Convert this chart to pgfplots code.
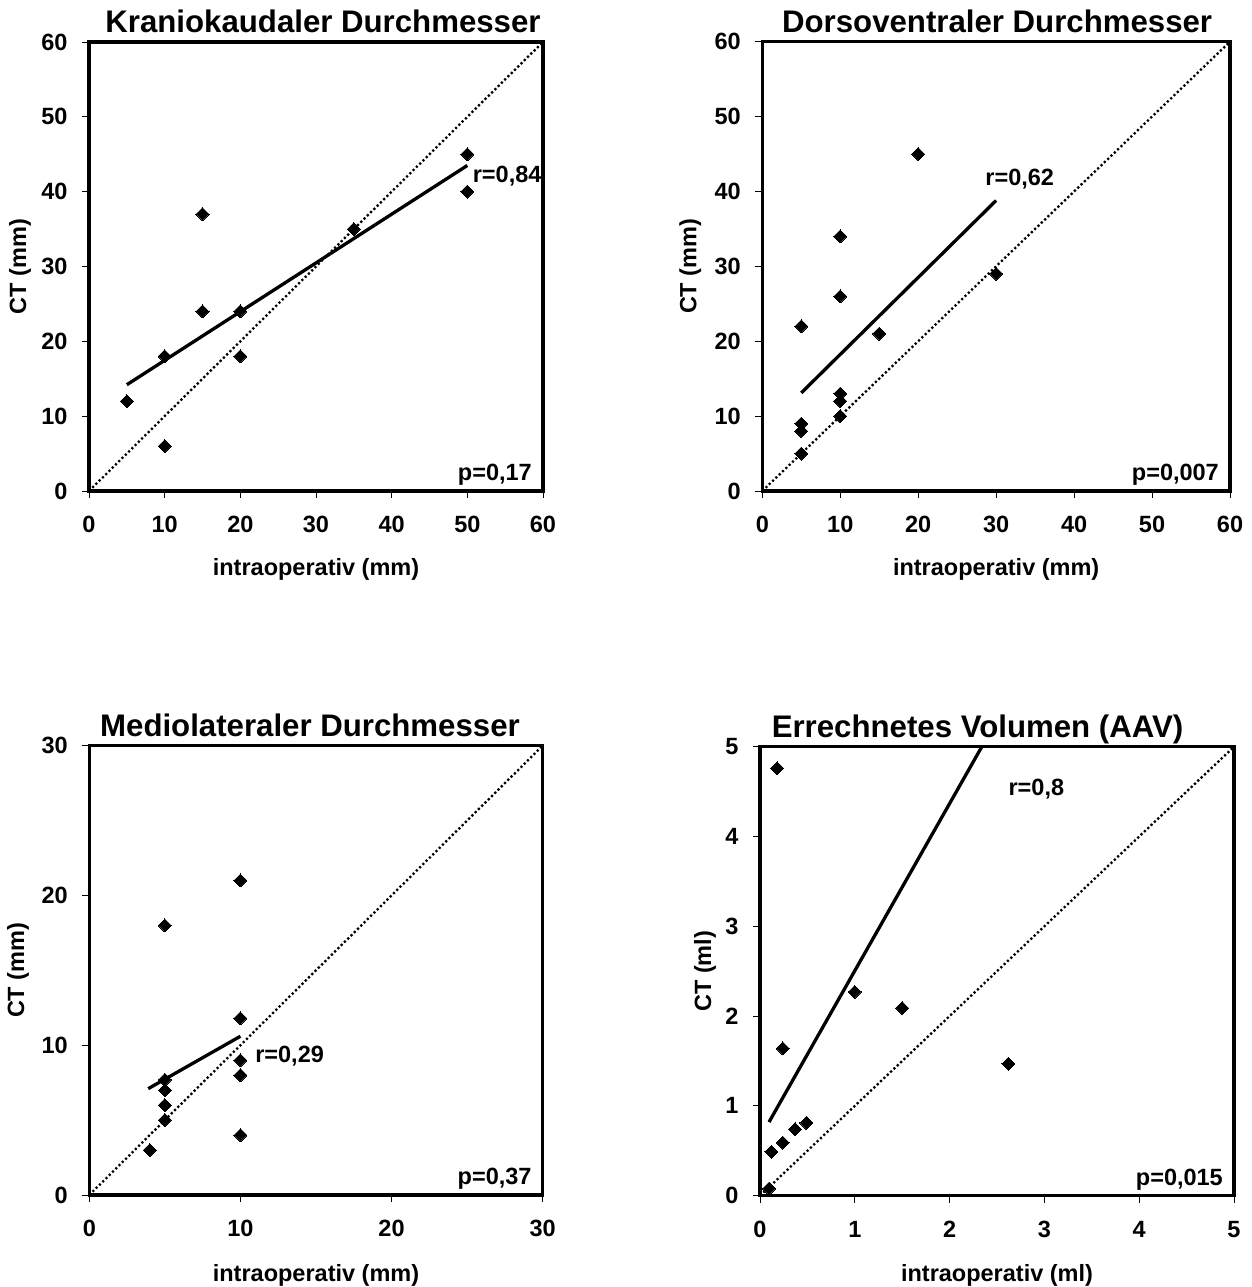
\documentclass[border=0pt]{standalone}
\usepackage{fontspec}
\setmainfont{Liberation Sans}
\usepackage{pgfplots}
\pgfplotsset{compat=1.18}

\newcommand\tfont{\bfseries\fontsize{23.5}{27}\selectfont}
\newcommand\hfont{\bfseries\fontsize{31.2}{36}\selectfont}

\pgfplotsset{
  panel/.style={
    scale only axis,
    axis line style={line width=3.5pt},
    tick style={line width=0.9pt, black},
    tick pos=left,
    tick align=outside,
    major tick length=7pt,
    ticklabel style={font=\tfont},
    /pgf/number format/assume math mode=true,
    xticklabel style={yshift=-15pt},
    yticklabel style={xshift=-11pt},
    label style={font=\tfont},
    xlabel style={anchor=center},
    ylabel style={anchor=center},
    clip mode=individual,
  },
  pts/.style={only marks, mark=square*, mark size=4.6pt,
    mark options={rotate=45, fill=black, draw=black, line width=0pt}},
  diag/.style={black, line width=2.3pt, dash pattern=on 2.2pt off 2.4pt, no marks},
  fit/.style={black, line width=3.3pt, no marks},
}
\tikzset{
  rlab/.style={anchor=west, inner sep=0pt, font=\tfont},
  plab/.style={anchor=base east, inner sep=0pt, font=\tfont, xshift=-11pt, yshift=10.5pt},
  ttl/.style={anchor=base, inner sep=0pt, font=\hfont, yshift=9.5pt},
}

\begin{document}
\begin{tikzpicture}
\useasboundingbox (0,0) rectangle (1252pt,1287pt);

% Kraniokaudal
\begin{axis}[panel, at={(89pt,796pt)}, width=454pt, height=449pt,
  xmin=0, xmax=60, ymin=0, ymax=60,
  xtick={0,10,...,60}, ytick={0,10,...,60},
  xlabel={intraoperativ (mm)}, ylabel={CT (mm)},
  xlabel style={at={(axis description cs:0.5,-0.174)}},
  ylabel style={at={(axis description cs:-0.152,0.5)}},
]
\addplot[diag] coordinates {(0,0) (60,60)};
\addplot[fit] coordinates {(5,14.2) (50,43.5)};
\addplot[pts] coordinates {
  (5,12) (10,18) (10,6) (15,37) (15,24) (20,24) (20,18) (35,35) (50,45) (50,40)
};
\node[rlab] at (axis cs:50.7,42.1) {r=0,84};
\node[plab] at (rel axis cs:1,0) {p=0,17};
\node[ttl, xshift=7pt] at (rel axis cs:0.5,1) {Kraniokaudaler Durchmesser};
\end{axis}

% Dorsoventral
\begin{axis}[panel, at={(762.3pt,796pt)}, width=467.7pt, height=449.3pt,
  xmin=0, xmax=60, ymin=0, ymax=60,
  xtick={0,10,...,60}, ytick={0,10,...,60},
  xlabel={intraoperativ (mm)}, ylabel={CT (mm)},
  xlabel style={at={(axis description cs:0.5,-0.174)}},
  ylabel style={at={(axis description cs:-0.154,0.5)}},
]
\addplot[diag] coordinates {(0,0) (60,60)};
\addplot[fit] coordinates {(5,13.1) (30,38.8)};
\addplot[pts] coordinates {
  (5,22) (5,9) (5,8) (5,5) (10,34) (10,26) (10,13) (10,12) (10,10)
  (15,21) (20,45) (30,29)
};
\node[rlab] at (axis cs:28.6,41.6) {r=0,62};
\node[plab] at (rel axis cs:1,0) {p=0,007};
\node[ttl, xshift=1pt] at (rel axis cs:0.5,1) {Dorsoventraler Durchmesser};
\end{axis}

% Mediolateral
\begin{axis}[panel, at={(89.3pt,92pt)}, width=453.4pt, height=449.3pt,
  xmin=0, xmax=30, ymin=0, ymax=30,
  xtick={0,10,20,30}, ytick={0,10,20,30},
  xlabel={intraoperativ (mm)}, ylabel={CT (mm)},
  xlabel style={at={(axis description cs:0.5,-0.180)}},
  ylabel style={at={(axis description cs:-0.157,0.5)}},
]
\addplot[diag] coordinates {(0,0) (30,30)};
\addplot[fit] coordinates {(3.9,7.1) (10,10.6)};
\addplot[pts] coordinates {
  (10,21) (5,18) (10,11.8) (10,9) (10,8) (10,4) (5,7.7) (5,7) (5,6) (5,5) (4,3)
};
\node[rlab] at (axis cs:10.97,9.28) {r=0,29};
\node[plab] at (rel axis cs:1,0) {p=0,37};
\node[ttl, xshift=-6pt] at (rel axis cs:0.5,1) {Mediolateraler Durchmesser};
\end{axis}

% Volumen
\begin{axis}[panel, at={(760pt,91.3pt)}, width=474pt, height=449pt,
  xmin=0, xmax=5, ymin=0, ymax=5,
  xtick={0,1,...,5}, ytick={0,1,...,5},
  xlabel={intraoperativ (ml)}, ylabel={CT (ml)},
  xlabel style={at={(axis description cs:0.5,-0.178)}},
  ylabel style={at={(axis description cs:-0.116,0.5)}},
]
\addplot[diag] coordinates {(0,0) (5,5)};
\addplot[fit] coordinates {(0.095,0.82) (2.34,5.0)};
\addplot[pts] coordinates {
  (0.18,4.76) (0.24,1.64) (1.0,2.27) (1.5,2.09) (2.62,1.47)
  (0.49,0.81) (0.37,0.74) (0.24,0.59) (0.12,0.49) (0.095,0.08)
};
\node[rlab] at (axis cs:2.62,4.53) {r=0,8};
\node[plab] at (rel axis cs:1,0) {p=0,015};
\node[ttl, xshift=-19.5pt] at (rel axis cs:0.5,1) {Errechnetes Volumen (AAV)};
\end{axis}
\end{tikzpicture}
\end{document}
